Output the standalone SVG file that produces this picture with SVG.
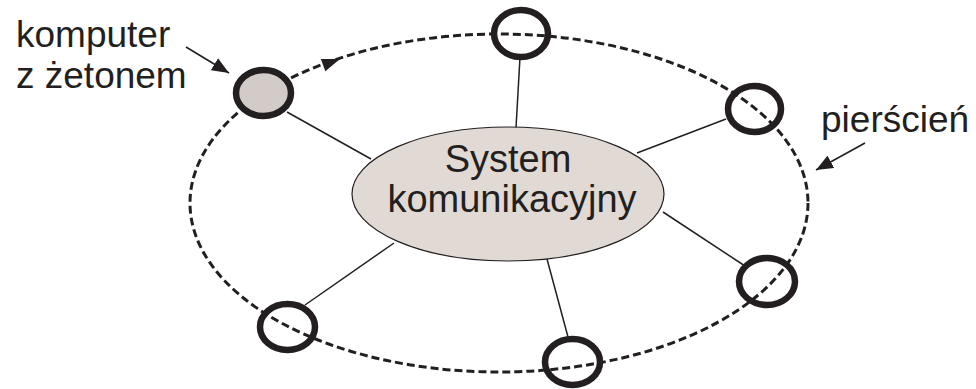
<svg xmlns="http://www.w3.org/2000/svg" width="976" height="389" viewBox="0 0 976 389">
  <style>
    .ring { fill: none; stroke: #231f20; stroke-width: 3; stroke-dasharray: 8 4; }
    .spoke { stroke: #231f20; stroke-width: 1.5; fill: none; }
    .pointer { stroke: #231f20; stroke-width: 1.6; fill: none; marker-end: url(#head); }
    .station { fill: none; stroke: #231f20; stroke-width: 6.5; }
    .token { fill: #d2cbc8; }
    .hub { fill: #e1d9d4; stroke: #231f20; stroke-width: 1.2; }
    .label { font-family: "Liberation Sans", Arial, sans-serif; font-size: 37px; fill: #231f20; }
    .hubtext { font-family: "Liberation Sans", Arial, sans-serif; font-size: 38px; fill: #231f20; text-anchor: middle; }
  </style>
  <defs>
    <marker id="head" markerUnits="userSpaceOnUse" markerWidth="18" markerHeight="14" refX="17" refY="7" orient="auto">
      <path d="M0,0 L17,7 L0,14 Z" fill="#231f20"/>
    </marker>
  </defs>

  <!-- ring, spokes and pointer arrows -->
  <g id="connectors">
    <ellipse class="ring" cx="499" cy="203" rx="309" ry="169"/>
    <polygon points="340,59 320.9,59 325.3,71.2" fill="#231f20"/>
    <line class="spoke" x1="287" y1="112" x2="371" y2="159"/>
    <line class="spoke" x1="520" y1="57" x2="516" y2="128"/>
    <line class="spoke" x1="726" y1="119" x2="637" y2="153"/>
    <line class="spoke" x1="745" y1="266" x2="663" y2="212"/>
    <line class="spoke" x1="305" y1="305" x2="394" y2="243"/>
    <line class="spoke" x1="568" y1="337" x2="547" y2="259"/>
    <line class="pointer" x1="186" y1="47" x2="229" y2="73"/>
    <line class="pointer" x1="865" y1="143" x2="816" y2="170"/>
  </g>

  <!-- central communication system -->
  <g id="hub">
    <ellipse class="hub" cx="508" cy="194" rx="156" ry="67"/>
    <text class="hubtext" x="508" y="172">System</text>
    <text class="hubtext" x="512" y="212">komunikacyjny</text>
  </g>

  <!-- stations on the ring -->
  <g id="station-token">
    <ellipse class="token" cx="263.5" cy="93" rx="27.5" ry="23"/>
    <ellipse class="station" cx="263.5" cy="93" rx="27.5" ry="23"/>
  </g>
  <g id="station-top">
    <ellipse class="station" cx="521" cy="33.5" rx="27" ry="23.5"/>
  </g>
  <g id="station-right">
    <ellipse class="station" cx="754.5" cy="109" rx="26.5" ry="23"/>
  </g>
  <g id="station-lower-right">
    <ellipse class="station" cx="767" cy="281.5" rx="28" ry="23.5"/>
  </g>
  <g id="station-bottom">
    <ellipse class="station" cx="572.5" cy="362" rx="27.5" ry="23"/>
  </g>
  <g id="station-lower-left">
    <ellipse class="station" cx="287.5" cy="327" rx="27.5" ry="23"/>
  </g>

  <!-- labels -->
  <g id="label-token">
    <text class="label" x="16" y="47">komputer</text>
    <text class="label" x="16" y="88">z żetonem</text>
  </g>
  <g id="label-ring">
    <text class="label" x="821" y="132">pierścień</text>
  </g>
</svg>
